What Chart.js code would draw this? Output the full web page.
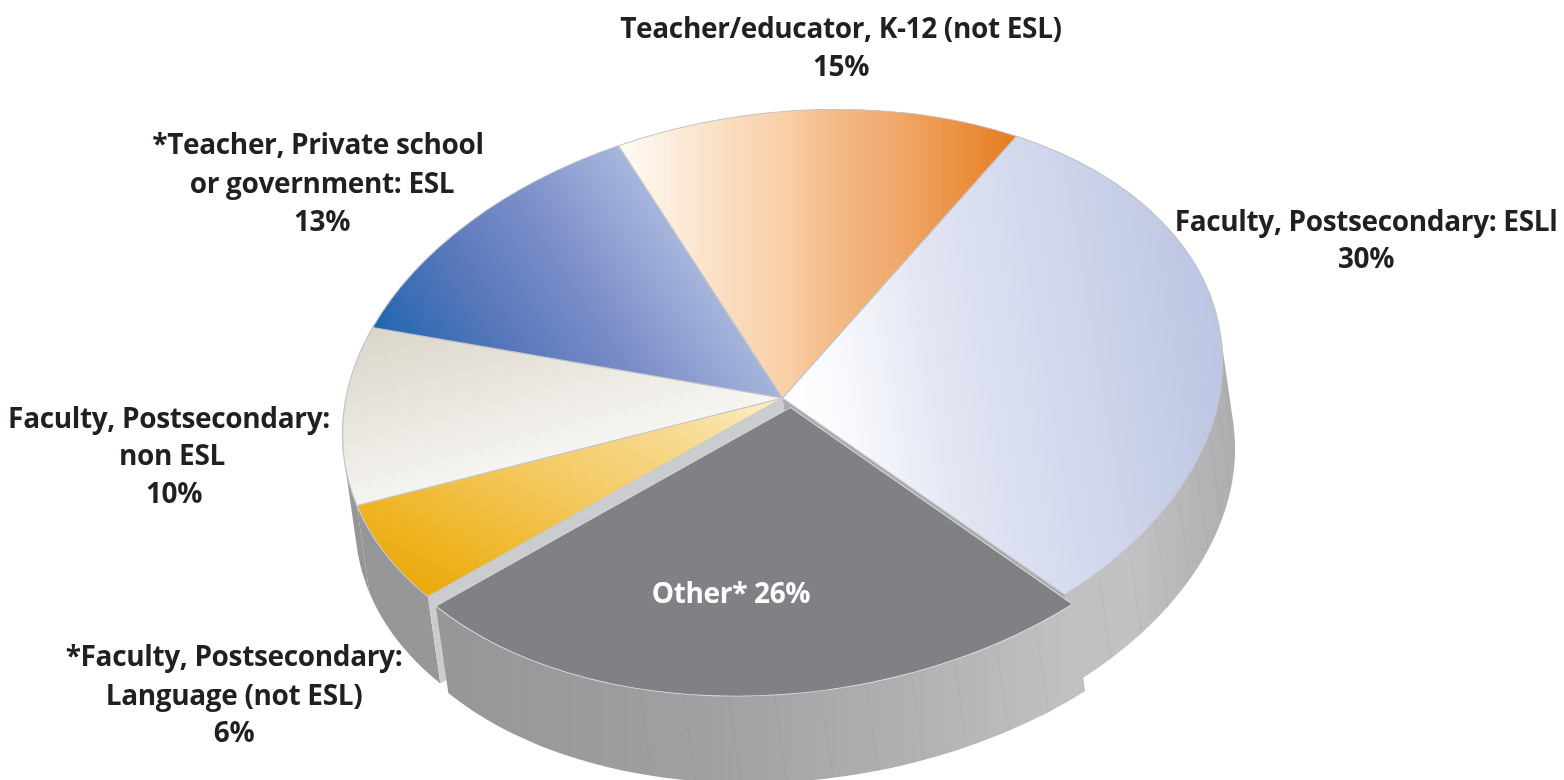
<!DOCTYPE html>
<html>
<head>
<meta charset="utf-8">
<title>Respondents by position</title>
<script src="https://cdn.jsdelivr.net/npm/chart.js@4/dist/chart.umd.js"></script>
<style>
    html, body { margin: 0; background: #fff; }
    #wrap { position: relative; width: 1564px; height: 780px; overflow: hidden; }
    #chart { position: absolute; left: 0; top: 0; }
    .lbl {
        position: absolute;
        transform: translate(-50%, -50%);
        white-space: nowrap;
        font: 700 28px "Open Sans", sans-serif;
        letter-spacing: -0.35px;
        color: #231f20;
    }
    .lbl.inside { color: #fff; }
</style>
</head>
<body>
<div id="wrap"><canvas id="chart" width="1564" height="780"></canvas></div>
<script>
const categories = [
    'Faculty, Postsecondary: ESLl',
    'Other*',
    '*Faculty, Postsecondary: Language (not ESL)',
    'Faculty, Postsecondary: non ESL',
    '*Teacher, Private school or government: ESL',
    'Teacher/educator, K-12 (not ESL)',
];
const values = [30, 26, 6, 10, 13, 15];

// how each category is broken over lines in the picture
const labelLines = [
    ['Faculty, Postsecondary: ESLl'],
    ['Other*'],
    ['*Faculty, Postsecondary:', 'Language (not ESL)'],
    ['Faculty, Postsecondary:', 'non ESL'],
    ['*Teacher, Private school', 'or government: ESL'],
    ['Teacher/educator, K-12 (not ESL)'],
];

// line centres of each label, the last one is the percentage
const labelSpots = [
    [[1366, 220], [1366, 257]],
    [[731, 592]],
    [[234, 655], [234, 694], [234, 731]],
    [[169, 417], [172, 454], [174, 492]],
    [[318, 143], [322, 182], [322, 220]],
    [[841, 27], [841, 65]],
];

const ROTATION = 32.7;
const CHART_R = 370;
const CHART_CX = 782;
const CHART_CY = 390;

// the flat pie is sheared on to this ellipse
const SCREEN_X = 782.5;
const SCREEN_Y = 398;
const RADIUS_X = 440;
const RADIUS_Y = 286;
const TILT = -39;
const LEAN = 4.5;
const DEPTH_X = 12.5;
const DEPTH_Y = 87;
const EXPLODE_X = 8;
const EXPLODE_Y = 9.5;
const OTHER = 1;

function toScreen(x, y) {
    const u = (x - CHART_CX) / CHART_R;
    const v = (y - CHART_CY) / CHART_R;
    return [SCREEN_X + RADIUS_X * u + LEAN * v, SCREEN_Y + TILT * u + RADIUS_Y * v];
}

function toChart(sx, sy) {
    const dx = sx - SCREEN_X;
    const dy = sy - SCREEN_Y;
    const det = RADIUS_X * RADIUS_Y - LEAN * TILT;
    const u = (RADIUS_Y * dx - LEAN * dy) / det;
    const v = (RADIUS_X * dy - TILT * dx) / det;
    return [CHART_CX + u * CHART_R, CHART_CY + v * CHART_R];
}

// linear gradient given in page pixels, so it looks straight after the shear
function sheared(ctx, x0, y0, x1, y1, stops) {
    const p0 = toChart(x0, y0);
    const p1 = toChart(x1, y1);
    const iso = toChart(x0 - (y1 - y0), y0 + (x1 - x0));
    const dx = iso[0] - p0[0];
    const dy = iso[1] - p0[1];
    const len = Math.hypot(dx, dy);
    const gx = -dy / len;
    const gy = dx / len;
    const t = (p1[0] - p0[0]) * gx + (p1[1] - p0[1]) * gy;
    const g = ctx.createLinearGradient(p0[0], p0[1], p0[0] + gx * t, p0[1] + gy * t);
    stops.forEach((s) => g.addColorStop(s[0], s[1]));
    return g;
}

function sliceFill(ctx, i) {
    switch (i) {
        case 0:
            return sheared(ctx, 790, 400, 1218, 326, [[0, '#ffffff'], [0.14, '#f7f8fc'], [0.37, '#e0e4f2'], [0.67, '#d0d6ec'], [1, '#bcc5e2']]);
        case 1:
            return '#808184';
        case 2:
            return sheared(ctx, 432, 598, 588, 297, [[0, '#ebaa0e'], [0.14, '#eeb31f'], [0.5, '#f4cb66'], [0.75, '#f7d98e'], [1, '#fbeec8']]);
        case 3:
            return sheared(ctx, 370, 335, 420, 515, [[0, '#dcd7cc'], [0.5, '#ebe8e1'], [1, '#f9f8f6']]);
        case 4:
            return sheared(ctx, 373, 328, 621, 160, [[0, '#2066b0'], [0.33, '#5677ba'], [0.64, '#7a8cc8'], [1, '#a5b4dc']]);
        default:
            return sheared(ctx, 625, 250, 1012, 250, [[0, '#fffaf2'], [0.3, '#f9d9b9'], [0.42, '#f8cfa6'], [0.53, '#f4bb89'], [0.7, '#f1a86c'], [0.84, '#ec9547'], [1, '#e67d22']]);
    }
}

// wall shade along the page width
const wallStops = [[340, 150], [450, 151], [700, 160], [900, 176], [1060, 192], [1130, 194], [1180, 184], [1250, 172]];

function wallFill(ctx) {
    const from = wallStops[0][0];
    const to = wallStops[wallStops.length - 1][0];
    const g = ctx.createLinearGradient(from, 0, to, 0);
    wallStops.forEach((s) => g.addColorStop((s[0] - from) / (to - from), `rgb(${s[1]},${s[1]},${s[1] + 2})`));
    return g;
}

function rimPoint(el, a) {
    return toScreen(el.x + Math.cos(a) * el.outerRadius, el.y + Math.sin(a) * el.outerRadius);
}

function drawWall(ctx, el) {
    const step = (1.5 * Math.PI) / 180;
    const count = Math.ceil((el.endAngle - el.startAngle) / step);
    const pts = [];
    for (let n = 0; n < count; n++) pts.push(rimPoint(el, el.startAngle + n * step));
    pts.push(rimPoint(el, el.endAngle));

    // all quads in one path, wound the same way, so the sides of the pie do not cancel out
    ctx.beginPath();
    for (let i = 0; i < pts.length - 1; i++) {
        let p = pts[i];
        let q = pts[i + 1];
        if ((q[0] - p[0]) * DEPTH_Y - (q[1] - p[1]) * DEPTH_X < 0) [p, q] = [q, p];
        ctx.moveTo(p[0], p[1]);
        ctx.lineTo(q[0], q[1]);
        ctx.lineTo(q[0] + DEPTH_X, q[1] + DEPTH_Y);
        ctx.lineTo(p[0] + DEPTH_X, p[1] + DEPTH_Y);
        ctx.closePath();
    }
    ctx.fillStyle = wallFill(ctx);
    ctx.fill();

    // faint seams between the wall panels
    for (let n = 4; n < count; n += 4) {
        const p = pts[n];
        if (p[0] < 600) continue;
        ctx.beginPath();
        ctx.moveTo(p[0], p[1]);
        ctx.lineTo(p[0] + DEPTH_X, p[1] + DEPTH_Y);
        ctx.strokeStyle = 'rgba(90,90,95,0.1)';
        ctx.lineWidth = 0.8;
        ctx.stroke();
    }
}

function drawCut(ctx, el, angle, colour) {
    const c = toScreen(el.x, el.y);
    const r = rimPoint(el, angle);
    ctx.beginPath();
    ctx.moveTo(c[0], c[1]);
    ctx.lineTo(r[0], r[1]);
    ctx.lineTo(r[0] + DEPTH_X, r[1] + DEPTH_Y);
    ctx.lineTo(c[0] + DEPTH_X, c[1] + DEPTH_Y);
    ctx.closePath();
    ctx.fillStyle = colour;
    ctx.fill();
}

const pieBody = {
    id: 'pieBody',
    afterDatasetsUpdate(chart) {
        // pull "Other" out by hand, the offset option only moves along the mid angle
        const el = chart.getDatasetMeta(0).data[OTHER];
        const moved = toChart(SCREEN_X + EXPLODE_X, SCREEN_Y + EXPLODE_Y);
        el.x += moved[0] - CHART_CX;
        el.y += moved[1] - CHART_CY;
    },
    beforeDatasetsDraw(chart) {
        const ctx = chart.ctx;
        const arcs = chart.getDatasetMeta(0).data;
        arcs.forEach((el, i) => {
            if (i !== OTHER) drawWall(ctx, el);
        });
        drawCut(ctx, arcs[0], arcs[0].endAngle, '#a9aaac');
        drawCut(ctx, arcs[2], arcs[2].startAngle, '#cbccce');
        drawWall(ctx, arcs[OTHER]);

        const a = RADIUS_X / CHART_R;
        const b = TILT / CHART_R;
        const c = LEAN / CHART_R;
        const d = RADIUS_Y / CHART_R;
        ctx.save();
        ctx.transform(a, b, c, d, SCREEN_X - a * CHART_CX - c * CHART_CY, SCREEN_Y - b * CHART_CX - d * CHART_CY);
    },
    afterDatasetsDraw(chart) {
        chart.ctx.restore();
    },
};

const ctx = document.getElementById('chart').getContext('2d');

new Chart(ctx, {
    type: 'pie',
    data: {
        labels: categories,
        datasets: [{
            data: values,
            backgroundColor: (c) => sliceFill(c.chart.ctx, c.dataIndex),
            borderColor: (c) => (c.dataIndex === OTHER ? '#d8d9da' : '#c4c5c8'),
            borderWidth: 1.1,
        }],
    },
    options: {
        responsive: false,
        animation: false,
        events: [],
        rotation: ROTATION,
        radius: CHART_R,
        layout: { padding: 20 },
        plugins: {
            legend: { display: false },
            tooltip: { enabled: false },
        },
    },
    plugins: [pieBody],
});

// labels
const wrap = document.getElementById('wrap');

function addLine(text, spot, inside) {
    const div = document.createElement('div');
    div.className = inside ? 'lbl inside' : 'lbl';
    div.textContent = text;
    div.style.left = spot[0] + 'px';
    div.style.top = spot[1] + 'px';
    wrap.appendChild(div);
}

labelLines.forEach((lines, i) => {
    if (i === OTHER) {
        addLine(`${lines[0]} ${values[i]}%`, labelSpots[i][0], true);
        return;
    }
    lines.forEach((line, j) => addLine(line, labelSpots[i][j], false));
    addLine(`${values[i]}%`, labelSpots[i][lines.length], false);
});
</script>
</body>
</html>
